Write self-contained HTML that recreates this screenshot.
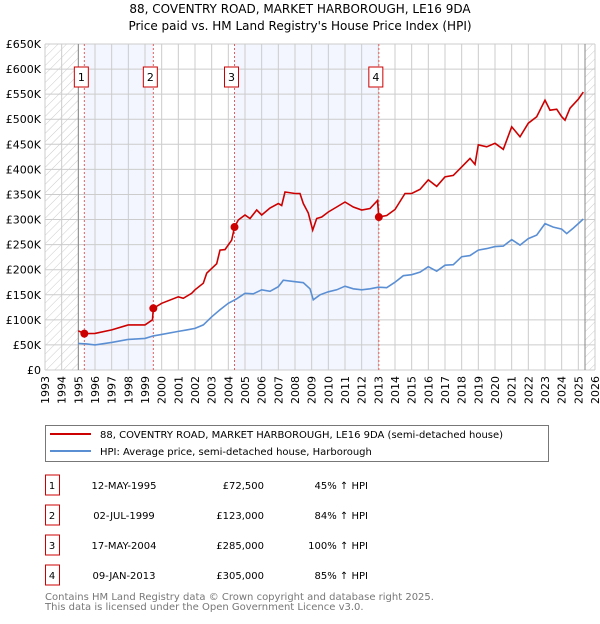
<!DOCTYPE html>
<html><head><meta charset="utf-8"><style>
body{margin:0;background:#fff;font-family:"DejaVu Sans","Liberation Sans",sans-serif;}
svg text{font-family:"DejaVu Sans","Liberation Sans",sans-serif;}
</style></head><body>
<svg id="chart" width="600" height="620" xmlns="http://www.w3.org/2000/svg">
<defs><pattern id="hatch" width="6" height="6" patternUnits="userSpaceOnUse" patternTransform="rotate(45)"><line x1="0" y1="0" x2="0" y2="6" stroke="#ccc" stroke-width="1"/></pattern></defs>
<text x="300" y="13" text-anchor="middle" font-size="12">88, COVENTRY ROAD, MARKET HARBOROUGH, LE16 9DA</text>
<text x="300" y="30" text-anchor="middle" font-size="12">Price paid vs. HM Land Registry's House Price Index (HPI)</text>
<g id="plot"></g>
<g>
<rect x="45.5" y="425.5" width="503" height="36" fill="#fff" stroke="#777"/>
<line x1="50" y1="434" x2="91" y2="434" stroke="#cc0000" stroke-width="2"/>
<text x="100" y="438" font-size="10">88, COVENTRY ROAD, MARKET HARBOROUGH, LE16 9DA (semi-detached house)</text>
<line x1="50" y1="451" x2="91" y2="451" stroke="#5b8fd4" stroke-width="2"/>
<text x="100" y="455" font-size="10">HPI: Average price, semi-detached house, Harborough</text>
</g>
<g id="table" font-size="10"></g>
<text x="45" y="600" font-size="10" fill="#777">Contains HM Land Registry data © Crown copyright and database right 2025.</text>
<text x="45" y="610" font-size="10" fill="#777">This data is licensed under the Open Government Licence v3.0.</text>
</svg>
<script>
const hpiYears=[1995,1995.5,1996,1997,1998,1999,1999.5,2000,2001,2001.5,2002,2002.5,2003,2003.5,2004,2004.5,2005,2005.5,2006,2006.5,2007,2007.3,2008,2008.5,2008.9,2009.1,2009.5,2010,2010.5,2011,2011.5,2012,2012.5,2013,2013.5,2014,2014.5,2015,2015.5,2016,2016.5,2017,2017.5,2018,2018.5,2019,2019.5,2020,2020.5,2021,2021.5,2022,2022.5,2023,2023.5,2024,2024.3,2024.7,2025,2025.3];
const hpiValues=[53,52,50,55,61,63,68,71,77,80,83,90,106,120,133,142,153,152,160,157,166,179,176,174,162,140,150,156,160,167,162,160,162,165,164,175,188,190,195,206,197,209,210,226,228,239,242,246,247,260,249,262,269,292,285,281,272,283,292,301];
const priceYears=[1995,1995.37,1996,1997,1998,1999,1999.45,1999.5,2000,2001,2001.3,2001.8,2002,2002.5,2002.7,2003.3,2003.5,2003.8,2004.2,2004.37,2004.6,2005,2005.3,2005.7,2006,2006.5,2007,2007.2,2007.4,2008,2008.3,2008.5,2008.8,2009.06,2009.3,2009.6,2010,2010.5,2011,2011.5,2012,2012.5,2012.95,2013.03,2013.5,2014,2014.6,2015,2015.5,2016,2016.5,2017,2017.5,2018,2018.5,2018.8,2019,2019.5,2020,2020.5,2021,2021.5,2022,2022.5,2023,2023.3,2023.7,2024,2024.2,2024.5,2025,2025.3];
const priceValues=[78,72.5,73,80,90,90,100,123,133,146,143,153,160,173,193,212,239,240,259,285,299,309,302,319,309,323,332,328,355,352,352,332,313,279,302,305,315,325,335,325,319,322,338,305,308,320,352,352,360,379,366,385,388,405,422,410,449,445,452,440,485,465,492,505,538,518,520,505,498,522,540,554];
const saleYears=[1995.36,1999.5,2004.37,2013.03];
const saleLabels=["1","2","3","4"];
const saleDates=["12-MAY-1995","02-JUL-1999","17-MAY-2004","09-JAN-2013"];
const salePrices=["£72,500","£123,000","£285,000","£305,000"];
const saleValues=[72.5,123,285,305];
const saleHpi=["45% ↑ HPI","84% ↑ HPI","100% ↑ HPI","85% ↑ HPI"];
const yTicks=[0,50,100,150,200,250,300,350,400,450,500,550,600,650];
const yTickLabels=["£0","£50K","£100K","£150K","£200K","£250K","£300K","£350K","£400K","£450K","£500K","£550K","£600K","£650K"];
const xTicks=[1993,1994,1995,1996,1997,1998,1999,2000,2001,2002,2003,2004,2005,2006,2007,2008,2009,2010,2011,2012,2013,2014,2015,2016,2017,2018,2019,2020,2021,2022,2023,2024,2025,2026];

const L=45,R=595,T=44,B=370,X0=1993,X1=2026,YMAX=650;
const sx=v=>L+(v-X0)/(X1-X0)*(R-L);
const sy=v=>B-v/YMAX*(B-T);
const NS="http://www.w3.org/2000/svg";
const plot=document.getElementById('plot');
function mk(tag,attrs,parent){const e=document.createElementNS(NS,tag);for(const k in attrs)e.setAttribute(k,attrs[k]);(parent||plot).appendChild(e);return e;}

let r=mk('rect',{x:L,y:T,width:R-L,height:B-T,fill:'#fff'});


for(let i=0;i<saleYears.length;i+=2){
 const x1=sx(saleYears[i]),x2=sx(saleYears[i+1]);
 const s=mk('rect',{x:x1,y:T,width:x2-x1,height:B-T,fill:'#f3f6fe'});
 
 
}
let h1=mk('rect',{x:L,y:T,width:sx(1995)-L,height:B-T,fill:'url(#hatch)'});


let h2=mk('rect',{x:sx(2025.4),y:T,width:R-sx(2025.4),height:B-T,fill:'url(#hatch)'});


xTicks.forEach(t=>{
 const g=mk('line',{x1:sx(t),x2:sx(t),y1:T,y2:B,stroke:'#ccc','stroke-width':1});
 
 
 const tx=mk('text',{x:0,y:0,'font-size':11,'text-anchor':'end',transform:`translate(${sx(t)+4},${B+6}) rotate(-90)`});
 tx.textContent=t;
 
 
});
yTicks.forEach((t,i)=>{
 const g=mk('line',{x1:L,x2:R,y1:sy(t),y2:sy(t),stroke:'#ccc','stroke-width':1});
 
 
 const tx=mk('text',{x:L-4,y:sy(t)+4,'font-size':11,'text-anchor':'end'});
 tx.textContent=yTickLabels[i];
 
 
});
let b1=mk('line',{x1:sx(1995),x2:sx(1995),y1:T,y2:B,stroke:'#888'});


let b2=mk('line',{x1:sx(2025.4),x2:sx(2025.4),y1:T,y2:B,stroke:'#888'});


saleYears.forEach((y,i)=>{
 const x=sx(y);
 const l=mk('line',{x1:x,x2:x,y1:T,y2:B,stroke:'#e06060','stroke-dasharray':'2,2'});
 
 
 const bx=mk('rect',{x:x-10,y:67,width:14,height:20,fill:'#fff',stroke:'#cc0000'});
 
 
 const t=mk('text',{x:x-3,y:81,'font-size':11,'text-anchor':'middle'});
 t.textContent=saleLabels[i];
 
 
});
function path(xs,vs){return xs.map((x,i)=>(i?'L':'M')+sx(x).toFixed(1)+','+sy(vs[i]).toFixed(1)).join('');}
let hp=mk('path',{d:path(hpiYears,hpiValues),fill:'none',stroke:'#5b8fd4','stroke-width':1.6});


let pp=mk('path',{d:path(priceYears,priceValues),fill:'none',stroke:'#cc0000','stroke-width':1.6});


saleYears.forEach((y,i)=>{
 const c=mk('circle',{cx:sx(y),cy:sy(saleValues[i]),r:4,fill:'#cc0000'});
 
 
});
const tb=document.getElementById('table');
saleLabels.forEach((s,i)=>{
 const y=485+i*30;
 const bx=mk('rect',{x:45.5,y:y-10,width:14,height:20,fill:'#fff',stroke:'#cc0000'},tb);
 
 
 const cells=[[52,s,'middle'],[124,saleDates[i],'middle'],[264,salePrices[i],'end'],[368,saleHpi[i],'end']];
 cells.forEach(c=>{
  const t=mk('text',{x:c[0],y:y+4,'text-anchor':c[2]},tb);
  t.textContent=c[1];
  
  
 });
});
</script>
</body></html>
